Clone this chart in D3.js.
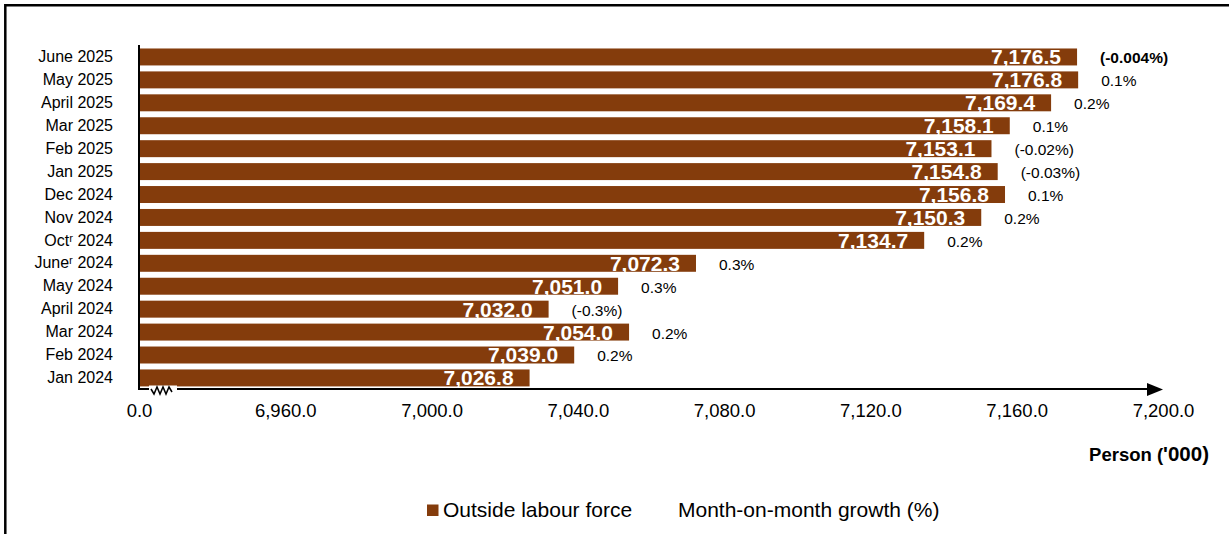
<!DOCTYPE html>
<html>
<head>
<meta charset="utf-8">
<script src="https://cdn.jsdelivr.net/npm/d3@7"></script>
<style>
  html, body { margin: 0; padding: 0; background: #fff; }
  svg { display: block; font-family: "Liberation Sans", Arial, sans-serif; }
</style>
</head>
<body>
<svg id="chart" width="1229" height="534"></svg>
<script>
// ---- data ----
const categories = ["June 2025", "May 2025", "April 2025", "Mar 2025", "Feb 2025", "Jan 2025",
  "Dec 2024", "Nov 2024", "Oct\u02b3 2024", "June\u02b3 2024", "May 2024", "April 2024",
  "Mar 2024", "Feb 2024", "Jan 2024"];
const values = [7176.5, 7176.8, 7169.4, 7158.1, 7153.1, 7154.8, 7156.8, 7150.3, 7134.7,
  7072.3, 7051.0, 7032.0, 7054.0, 7039.0, 7026.8];
const growth = ["(-0.004%)", "0.1%", "0.2%", "0.1%", "(-0.02%)", "(-0.03%)", "0.1%", "0.2%",
  "0.2%", "0.3%", "0.3%", "(-0.3%)", "0.2%", "0.2%", ""];
const tickValues = [6920, 6960, 7000, 7040, 7080, 7120, 7160, 7200];
const tickLabels = ["0.0", "6,960.0", "7,000.0", "7,040.0", "7,080.0", "7,120.0", "7,160.0", "7,200.0"];
const seriesName = "Outside labour force";
const growthName = "Month-on-month growth (%)";
const axisTitle = "Person (";
const axisTitleUnit = "'000)";

const barColor = "#843C0C";
const svg = d3.select("#chart");

// frame
svg.append("path")
  .attr("d", "M5.3,534 L5.3,5.3 L1229,5.3")
  .attr("fill", "none").attr("stroke", "#000").attr("stroke-width", 2.5);

const x = d3.scaleLinear().domain([6920, 7200]).range([139, 1163]);
const y = d3.scaleBand().domain(categories).range([45.5, 389.4]).paddingInner(0.26).paddingOuter(0.13);

// bars
svg.append("g").selectAll("rect").data(values).join("rect")
  .attr("x", x(6920))
  .attr("y", (d, i) => y(categories[i]))
  .attr("width", d => x(d) - x(6920))
  .attr("height", y.bandwidth())
  .attr("fill", barColor);

// value labels inside bars
svg.append("g").selectAll("text").data(values).join("text")
  .attr("x", d => x(d) - 16)
  .attr("y", (d, i) => y(categories[i]) + y.bandwidth() - 1)
  .attr("text-anchor", "end")
  .attr("fill", "#fff")
  .attr("font-weight", "bold")
  .attr("font-size", "21px")
  .text(d => d3.format(",.1f")(d));

// growth labels
svg.append("g").selectAll("text").data(growth).join("text")
  .attr("x", (d, i) => x(values[i]) + 23)
  .attr("y", (d, i) => y(categories[i]) + y.bandwidth() / 2 + 1)
  .attr("dy", "0.35em")
  .attr("fill", "#000")
  .attr("font-size", "15.5px")
  .attr("font-weight", (d, i) => i === 0 ? "bold" : "normal")
  .text(d => d);

// category axis
const yAxis = d3.axisLeft(y).tickSize(0).tickPadding(0);
const gy = svg.append("g").attr("transform", "translate(113,0)").call(yAxis);
gy.select(".domain").remove();
gy.selectAll("text").attr("font-size", "16px").attr("fill", "#000")
  .attr("font-family", "Liberation Sans, Arial, sans-serif");

// vertical axis line
svg.append("line").attr("x1", 139).attr("x2", 139).attr("y1", 45).attr("y2", 390)
  .attr("stroke", "#000").attr("stroke-width", 2);

// x axis
const xAxis = d3.axisBottom(x).tickValues(tickValues).tickSize(0).tickPadding(0)
  .tickFormat((d, i) => tickLabels[i]);
const gx = svg.append("g").attr("transform", "translate(0,403.5)").call(xAxis);
gx.select(".domain").remove();
gx.selectAll("text").attr("font-size", "18.5px").attr("fill", "#000")
  .attr("font-family", "Liberation Sans, Arial, sans-serif");

// horizontal axis line with arrow
svg.append("line").attr("x1", 138).attr("x2", 1150).attr("y1", 389).attr("y2", 389)
  .attr("stroke", "#000").attr("stroke-width", 2.2);
svg.append("path").attr("d", "M1147,383 L1163,389.5 L1147,396 Z").attr("fill", "#000");

// axis break symbol
svg.append("rect").attr("x", 149).attr("y", 385.5).attr("width", 28).attr("height", 7).attr("fill", "#fff");
svg.append("path")
  .attr("d", "M151,389 L154,394 L157,387 L160,394 L163,387 L166,394 L169,387 L172,392")
  .attr("fill", "none").attr("stroke", "#000").attr("stroke-width", 1.5);

// axis title
const t = svg.append("text").attr("x", 1209).attr("y", 461).attr("text-anchor", "end")
  .attr("font-weight", "bold").attr("font-size", "18.5px").attr("fill", "#000");
t.append("tspan").text(axisTitle);
t.append("tspan").attr("font-size", "20.5px").text(axisTitleUnit);

// legend
svg.append("rect").attr("x", 427).attr("y", 504.5).attr("width", 11.5).attr("height", 11.5).attr("fill", barColor);
svg.append("text").attr("x", 443).attr("y", 510).attr("dy", "0.35em").attr("font-size", "21px")
  .attr("fill", "#000").text(seriesName);
svg.append("text").attr("x", 678).attr("y", 510).attr("dy", "0.35em").attr("font-size", "21px")
  .attr("fill", "#000").text(growthName);
</script>
</body>
</html>
